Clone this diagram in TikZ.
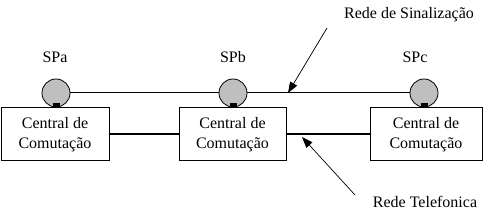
\documentclass[tikz,border=0pt]{standalone}
\usepackage{fontspec}
\setmainfont{Liberation Serif}
\usetikzlibrary{positioning, arrows.meta}
\tikzset{
	central/.style={draw, line width=1pt, align=center, inner sep=0pt,
		minimum height=53pt, font=\fontsize{16}{20}\selectfont}
}
\tikzset{
	spnode/.style={circle, draw, line width=0.8pt, fill=gray!50, minimum size=28pt, inner sep=0pt},
	splabel/.style={font=\fontsize{16}{19}\selectfont},
	stub/.style={line width=7pt},
	pointer/.style={line width=0.7pt, -{Triangle[length=11pt, width=8pt]}}
}

\begin{document}
\begin{tikzpicture}[x=1pt, y=1pt]
      \useasboundingbox (0,0) rectangle (490,217);
      % the three exchanges
      \node[central, minimum width=108pt] (cca) at (55,82.5) {Central de\\Comutação};
      \node[central, minimum width=107pt] (ccb) at (232.5,82.5) {Central de\\Comutação};
      \node[central, minimum width=112pt] (ccc) at (426,82.5) {Central de\\Comutação};
      % signalling points
      \node[spnode] (spa) at (56,124) {};
      \node[spnode] (spb) at (233,124) {};
      \node[spnode] (spc) at (424,124) {};
      \node[splabel] (spalbl) at (55,160) {SPa};
      \node[splabel] (spblbl) at (233,160) {SPb};
      \node[splabel] (spclbl) at (415,160) {SPc};
      % stubs joining each exchange to its signalling point
      \draw[stub] (cca.north -| spa) -- ++(0,4);
      \draw[stub] (ccb.north -| spb) -- ++(0,4);
      \draw[stub] (ccc.north -| spc) -- ++(0,4);
      % signalling network and trunks
      \draw[line width=1pt] (spa) -- (spb) -- (spc);
      \draw[line width=2pt] (cca) -- (ccb);
      \draw[line width=2pt] (ccb) -- (ccc);
      % captions with pointers
      \node[splabel] (sinal) at (409,202) {Rede de Sinalização};
      \node[splabel] (tel) at (425,15) {Rede Telefonica};
      \coordinate (sinalfrom) at (327,189);
      \coordinate (sinalto) at (288,124);
      \coordinate (telfrom) at (355,22);
      \coordinate (telto) at (302,80);
      \draw[pointer] (sinalfrom) -- (sinalto);
      \draw[pointer] (telfrom) -- (telto);
\end{tikzpicture}
\end{document}
